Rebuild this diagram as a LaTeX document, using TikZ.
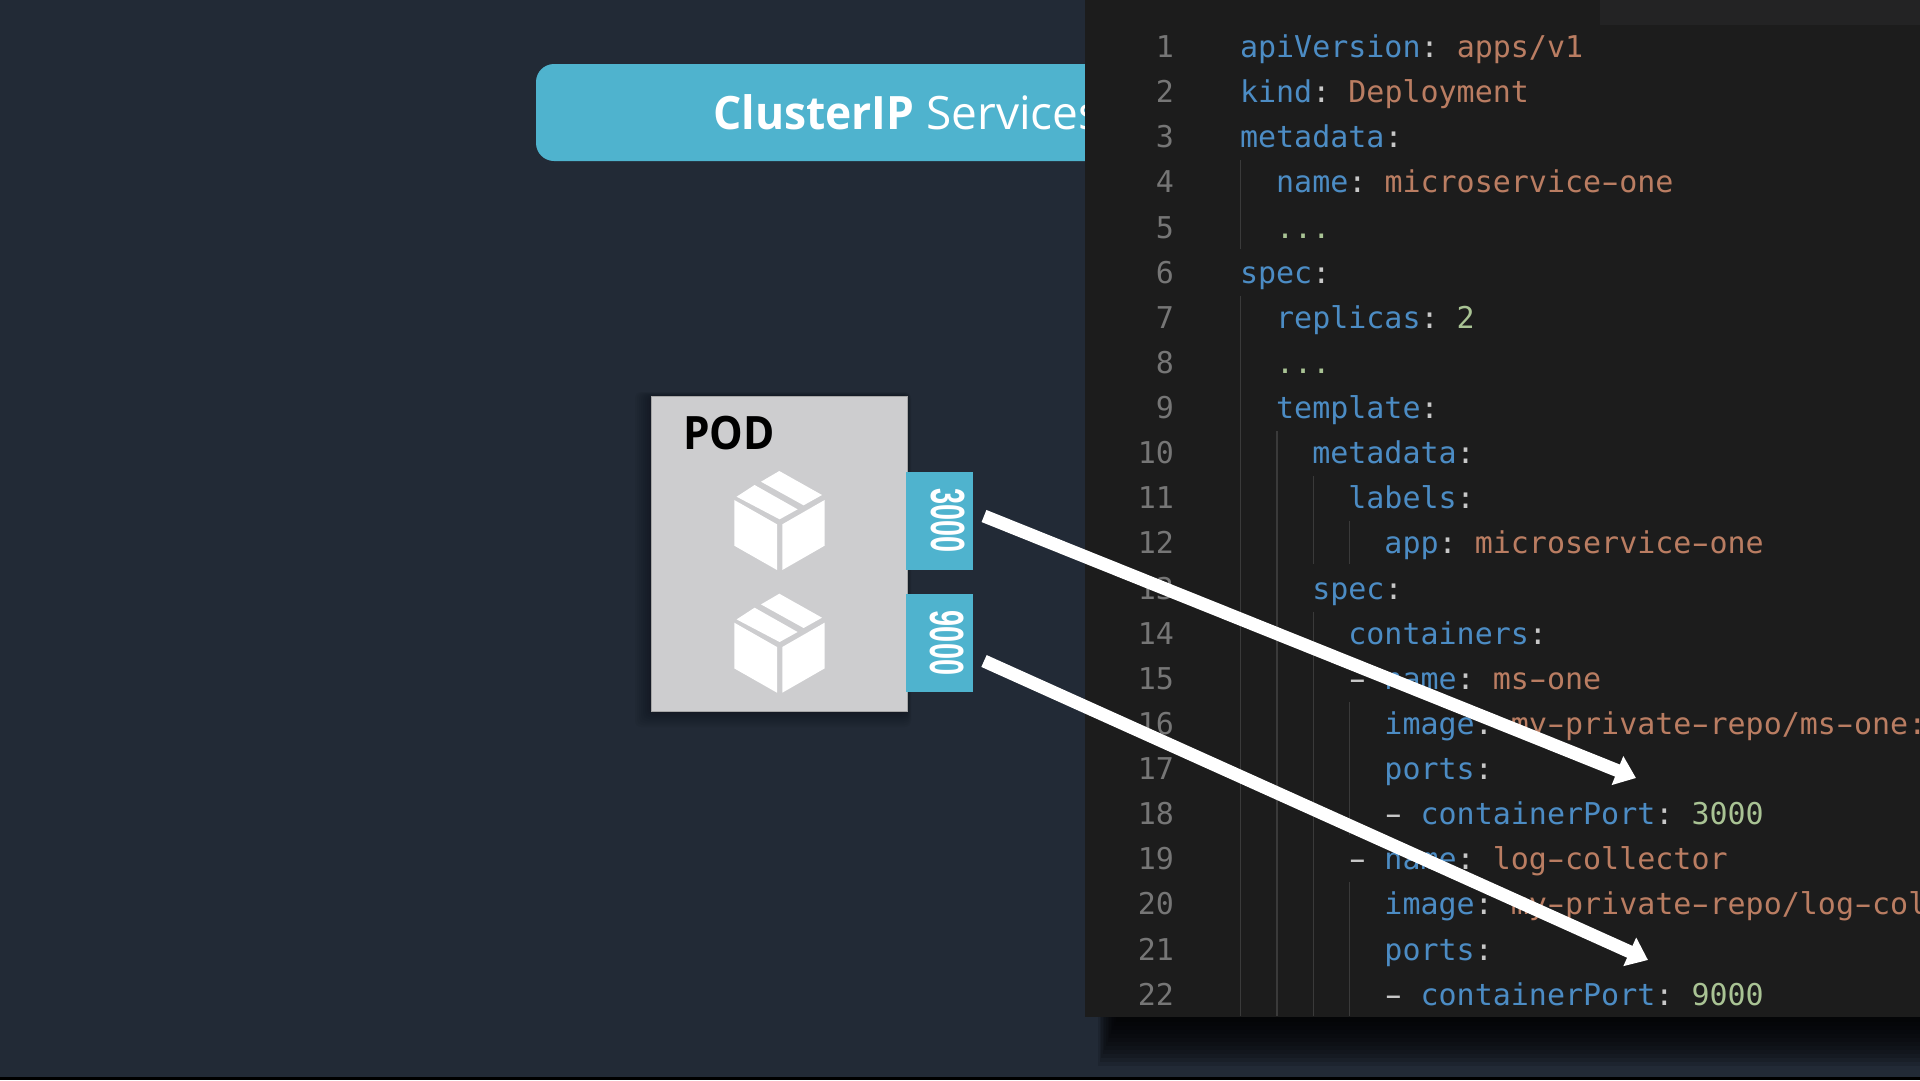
\documentclass[tikz,border=0pt]{standalone}
\usepackage{fontspec}
\usetikzlibrary{arrows.meta}
\setmainfont{Open Sans}
\newfontfamily\codefont{DejaVu Sans Mono}
\newfontfamily\numfont{Liberation Sans}
\definecolor{bgdark}{HTML}{222A36}
\definecolor{teal}{HTML}{4FB3CE}
\definecolor{panelc}{HTML}{1C1C1C}
\definecolor{tabc}{HTML}{232324}
\definecolor{podc}{HTML}{CDCDCF}
\definecolor{keyc}{HTML}{4C8CC4}
\definecolor{valc}{HTML}{BA7D62}
\definecolor{numc}{HTML}{A9C394}
\definecolor{punc}{HTML}{C8C8C8}
\definecolor{gutc}{HTML}{767676}
\definecolor{guidec}{HTML}{3A3A3A}
\tikzset{
  x=1pt,y=-1pt,
  codetext/.style={anchor=base west,inner sep=0pt,outer sep=0pt,font=\codefont\fontsize{30}{36}\selectfont},
  gutter/.style={anchor=base east,inner sep=0pt,outer sep=0pt,text=gutc,font=\codefont\fontsize{30}{36}\selectfont},
  guide/.style={draw=guidec,line width=1.3pt},
  porttab/.style={fill=teal,draw=none,minimum width=67pt,minimum height=98pt,inner sep=0pt},
  portnum/.style={rotate=-90,text=white,inner sep=0pt,font=\numfont\bfseries\fontsize{48}{48}\selectfont},
  cubeface/.style={fill=white,draw=none},
  linkarrow/.style={draw=white,line width=13pt,-{Triangle[length=20pt,width=30pt]}}
}
\newcommand{\K}[1]{\textcolor{keyc}{#1}}
\newcommand{\V}[1]{\textcolor{valc}{#1}}
\newcommand{\N}[1]{\textcolor{numc}{#1}}
\newcommand{\Pu}[1]{\textcolor{punc}{#1}}
\newcommand{\Sp}{\hspace*{18.06pt}}
\newcommand{\Hy}{\makebox[18.06pt]{\scalebox{1.7}[1]{-}}}
% line number, indent in characters, text
\newcommand{\codeline}[3]{%
  \node[gutter] (g#1) at (1174,{57.6+45.12*(#1-1)}) {#1};
  \node[codetext] (c#1) at ({1240+18.06*#2},{57.6+45.12*(#1-1)}) {#3};}
\newcommand{\guideline}[3]{%
  \draw[guide] (#1,{24+45.12*(#2-1)+1}) -- (#1,{min(1017,24+45.12*#3-1)});}
\newcommand{\cubeicon}[2]{%
  \begin{scope}[shift={(#1,#2)}]
    \path[cubeface] (0,29) -- (42.7,53.3) -- (42.7,99) -- (0,74.7) -- cycle;
    \path[cubeface] (48,53.3) -- (90.3,29) -- (90.3,74.7) -- (48,99) -- cycle;
    \path[cubeface] (2.3,25.7) -- (20.3,14) -- (63.3,38.3) -- (45.3,48.3) -- cycle;
    \path[cubeface] (26.7,10.7) -- (45,0) -- (87.7,24) -- (69.3,34.3) -- cycle;
  \end{scope}}
\begin{document}
\begin{tikzpicture}
\useasboundingbox (0,0) rectangle (1920,1080);
\clip (0,0) rectangle (1920,1080);
\fill[bgdark] (0,0) rectangle (1920,1080);
\fill[black] (0,1077) rectangle (1920,1080);

% title bar
\fill[teal,rounded corners=18pt] (536,64) rectangle (1200,161);
\node[anchor=base west,inner sep=0pt,text=white,font=\fontsize{46}{50}\selectfont] (title) at (713,129) {\scalebox{.965}[1]{\textbf{ClusterIP}} Services};

% panel shadow
\foreach \i in {0,...,11}{
  \fill[black,opacity=0.13] (1098+\i*1.6,1017) rectangle (1920,1066-4*\i);
}
% code panel
\fill[panelc] (1085,0) rectangle (1920,1017);
\fill[tabc] (1600,0) rectangle (1920,25);

% indent guides
\guideline{1240.7}{4}{5}
\guideline{1240.7}{7}{22}
\guideline{1277}{10}{22}
\guideline{1313.5}{11}{12}
\guideline{1313.5}{14}{22}
\guideline{1349.5}{12}{12}
\guideline{1349.5}{16}{18}
\guideline{1349.5}{20}{22}

\codeline{1}{0}{\K{apiVersion}\Pu{:}\Sp\V{apps/v1}}
\codeline{2}{0}{\K{kind}\Pu{:}\Sp\V{Deployment}}
\codeline{3}{0}{\K{metadata}\Pu{:}}
\codeline{4}{2}{\K{name}\Pu{:}\Sp\V{microservice\Hy one}}
\codeline{5}{2}{\N{...}}
\codeline{6}{0}{\K{spec}\Pu{:}}
\codeline{7}{2}{\K{replicas}\Pu{:}\Sp\N{2}}
\codeline{8}{2}{\N{...}}
\codeline{9}{2}{\K{template}\Pu{:}}
\codeline{10}{4}{\K{metadata}\Pu{:}}
\codeline{11}{6}{\K{labels}\Pu{:}}
\codeline{12}{8}{\K{app}\Pu{:}\Sp\V{microservice\Hy one}}
\codeline{13}{4}{\K{spec}\Pu{:}}
\codeline{14}{6}{\K{containers}\Pu{:}}
\codeline{15}{6}{\Pu{\Hy}\Sp\K{name}\Pu{:}\Sp\V{ms\Hy one}}
\codeline{16}{8}{\K{image}\Pu{:}\Sp\V{my\Hy private\Hy repo/ms\Hy one:}}
\codeline{17}{8}{\K{ports}\Pu{:}}
\codeline{18}{8}{\Pu{\Hy}\Sp\K{containerPort}\Pu{:}\Sp\N{3000}}
\codeline{19}{6}{\Pu{\Hy}\Sp\K{name}\Pu{:}\Sp\V{log\Hy collector}}
\codeline{20}{8}{\K{image}\Pu{:}\Sp\V{my\Hy private\Hy repo/log\Hy collector}}
\codeline{21}{8}{\K{ports}\Pu{:}}
\codeline{22}{8}{\Pu{\Hy}\Sp\K{containerPort}\Pu{:}\Sp\N{9000}}

% pod shadow
\foreach \i in {0,...,7}{
  \fill[black,opacity=0.04,rounded corners=6pt] (651-16+\i*2,396-4+\i/2) rectangle (907+4-\i/2,711+16-\i*2);
}
% pod
\node[fill=podc,draw=gray!70,line width=0.6pt,minimum width=256pt,minimum height=315pt,inner sep=0pt,anchor=north west] (pod) at (651.3,395.7) {};
\node[anchor=base west,inner sep=0pt,text=black,font=\fontsize{46}{50}\selectfont\bfseries] (podlabel) at (683,449) {\scalebox{.92}[1]{POD}};
\cubeicon{734.3}{471}
\cubeicon{734.3}{593.7}

% ports
\node[porttab,anchor=north west] (p3000) at (905.5,471.7) {};
\node[porttab,anchor=north west] (p9000) at (905.5,594) {};
\node[portnum] (t3000) at (947.5,520.5) {\scalebox{.6}[1]{3000}};
\node[portnum] (t9000) at (947.5,643) {\scalebox{.6}[1]{9000}};

% arrows
\coordinate (a1s) at (984,516);
\coordinate (a1e) at (1636,778);
\coordinate (a2s) at (984,661);
\coordinate (a2e) at (1648,960);
\draw[linkarrow] (a1s) -- (a1e);
\draw[linkarrow] (a2s) -- (a2e);
\end{tikzpicture}
\end{document}
